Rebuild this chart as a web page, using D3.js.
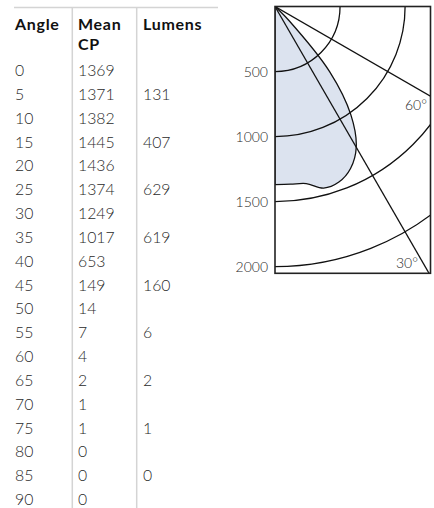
<!DOCTYPE html>
<html>
<head>
<meta charset="utf-8">
<script src="https://cdn.jsdelivr.net/npm/d3@7"></script>
<style>
  body { margin: 0; background: #fff; }
  svg { display: block; }
</style>
</head>
<body>
<svg id="svg"></svg>
<script>
// photometric data
const angles = [0, 5, 10, 15, 20, 25, 30, 35, 40, 45, 50, 55, 60, 65, 70, 75, 80, 85, 90];
const meanCP = [1369, 1371, 1382, 1445, 1436, 1374, 1249, 1017, 653, 149, 14, 7, 4, 2, 1, 1, 0, 0, 0];
const lumenAngles = [5, 15, 25, 35, 45, 55, 65, 75, 85];
const lumens = [131, 407, 629, 619, 160, 6, 2, 1, 0];
const ringTicks = [500, 1000, 1500, 2000];
const rayAngles = [30, 60];

const width = 434;
const height = 508;
const font = "Lato, 'Open Sans', sans-serif";

let svg = d3.select("#svg")
    .attr("width", width)
    .attr("height", height);

// ---------- table ----------
const colX = [15, 78, 143];
const lineX = [72.3, 136.7];

let table = svg.append("g");

table.append("line")
    .attr("x1", 14).attr("x2", 218)
    .attr("y1", 7.5).attr("y2", 7.5)
    .attr("stroke", "#d4d4d4")
    .attr("stroke-width", 1.5);

table.selectAll(".col-line")
    .data(lineX)
    .enter().append("line")
    .attr("class", "col-line")
    .attr("x1", d => d).attr("x2", d => d)
    .attr("y1", 7.5).attr("y2", height)
    .attr("stroke", "#d4d4d4")
    .attr("stroke-width", 1.5);

const headers = [
    { x: colX[0], lines: ["Angle"] },
    { x: colX[1], lines: ["Mean", "CP"] },
    { x: colX[2], lines: ["Lumens"] }
];

headers.forEach(h => {
    h.lines.forEach((t, i) => {
        table.append("text")
            .attr("x", h.x)
            .attr("y", 29.5 + i * 20.5)
            .style("font-family", font)
            .style("font-size", "16px")
            .style("font-weight", 700)
            .style("letter-spacing", "0.7px")
            .style("fill", "#111")
            .text(t);
    });
});

// row positions
let rowY = d3.scaleLinear()
    .domain([0, 90])
    .range([76, 505]);

const cellStyle = sel => sel
    .style("font-family", font)
    .style("font-size", "15.8px")
    .style("font-weight", 300)
    .style("fill", "#2a2a2a");

table.selectAll(".angle-cell")
    .data(angles)
    .enter().append("text")
    .attr("class", "angle-cell")
    .attr("x", colX[0])
    .attr("y", d => rowY(d))
    .call(cellStyle)
    .text(d => d);

table.selectAll(".cp-cell")
    .data(meanCP)
    .enter().append("text")
    .attr("class", "cp-cell")
    .attr("x", colX[1])
    .attr("y", (d, i) => rowY(angles[i]))
    .call(cellStyle)
    .text(d => d);

table.selectAll(".lm-cell")
    .data(lumens)
    .enter().append("text")
    .attr("class", "lm-cell")
    .attr("x", colX[2])
    .attr("y", (d, i) => rowY(lumenAngles[i]))
    .call(cellStyle)
    .text(d => d);

// ---------- polar candela plot ----------
const ox = 275, oy = 6.5;
const boxW = 155.5, boxH = 266.8;

let rScale = d3.scaleLinear()
    .domain([0, 2000])
    .range([0, 260.2]);

let polar = svg.append("g")
    .attr("transform", "translate(" + ox + "," + oy + ")");

svg.append("defs").append("clipPath")
    .attr("id", "box-clip")
    .append("rect")
    .attr("x", 0).attr("y", 0)
    .attr("width", boxW).attr("height", boxH);

let plot = polar.append("g")
    .attr("clip-path", "url(#box-clip)");

// 0 deg points straight down, angles grow towards the right
const toRad = a => Math.PI - a * Math.PI / 180;

const curve = d3.lineRadial()
    .angle(d => toRad(d.angle))
    .radius(d => rScale(d.cp))
    .curve(d3.curveCatmullRom.alpha(0.5));

const curveData = angles.map((a, i) => ({ angle: a, cp: meanCP[i] }));

plot.append("path")
    .attr("d", curve(curveData) + "Z")
    .attr("fill", "#dce3ef")
    .attr("stroke", "#111")
    .attr("stroke-width", 1.3);

// rings
plot.selectAll(".ring")
    .data(ringTicks)
    .enter().append("circle")
    .attr("class", "ring")
    .attr("r", d => rScale(d))
    .attr("fill", "none")
    .attr("stroke", "#111")
    .attr("stroke-width", 1.3);

// rays
plot.selectAll(".ray")
    .data(rayAngles)
    .enter().append("line")
    .attr("class", "ray")
    .attr("x1", 0).attr("y1", 0)
    .attr("x2", d => 400 * Math.sin(d * Math.PI / 180))
    .attr("y2", d => 400 * Math.cos(d * Math.PI / 180))
    .attr("stroke", "#111")
    .attr("stroke-width", 1.3);

// frame
polar.append("rect")
    .attr("width", boxW)
    .attr("height", boxH)
    .attr("fill", "none")
    .attr("stroke", "#222")
    .attr("stroke-width", 1.6);

// ring labels
polar.selectAll(".ring-label")
    .data(ringTicks)
    .enter().append("text")
    .attr("class", "ring-label")
    .attr("x", -7)
    .attr("y", d => rScale(d))
    .attr("dy", "0.36em")
    .attr("text-anchor", "end")
    .style("font-family", font)
    .style("font-size", "14px")
    .style("font-weight", 300)
    .style("fill", "#2a2a2a")
    .text(d => d);

// ray labels
const rayLabelPos = {
    60: { x: boxW - 3.5, y: boxW / Math.tan(60 * Math.PI / 180) + 14 },
    30: { x: boxH * Math.tan(30 * Math.PI / 180) - 11, y: boxH - 5 }
};

polar.selectAll(".ray-label")
    .data(rayAngles)
    .enter().append("text")
    .attr("class", "ray-label")
    .attr("x", d => rayLabelPos[d].x)
    .attr("y", d => rayLabelPos[d].y)
    .attr("text-anchor", "end")
    .style("font-family", font)
    .style("font-size", "14px")
    .style("font-weight", 300)
    .style("fill", "#2a2a2a")
    .text(d => d + "°");
</script>
</body>
</html>
